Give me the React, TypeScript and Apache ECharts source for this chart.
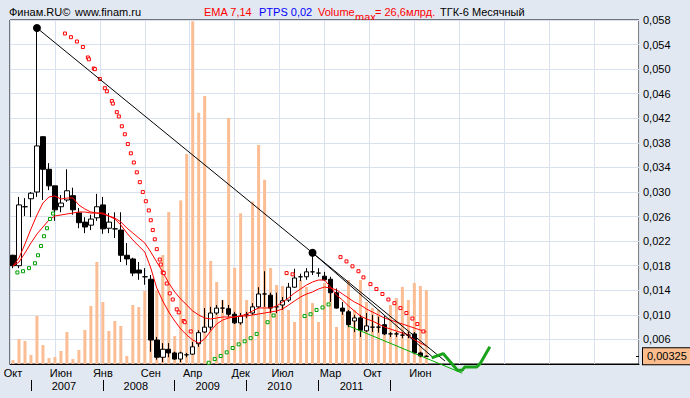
import React, { useEffect, useRef } from 'react';
import * as echarts from 'echarts';

const FONT = '"Liberation Sans", Arial, sans-serif';

const monthNames = ['Янв', 'Фев', 'Мар', 'Апр', 'Май', 'Июн', 'Июл', 'Авг', 'Сен', 'Окт', 'Ноя', 'Дек'];
const categories: string[] = [];
for (let k = 0; k < 105; k++) {
  const m = (9 + k) % 12;
  const y = 2006 + Math.floor((9 + k) / 12);
  categories.push(monthNames[m] + ' ' + y);
}
const monthLabelIdx = [0, 8, 15, 23, 30, 38, 45, 53, 60, 68];
const yearTickPos = [3, 15, 27, 39, 51, 63];
const yearLabelPos = [8.5, 20.5, 32.5, 44.5, 56.5];
const yearLabels = ['2007', '2008', '2009', '2010', '2011'];

const candleOpen = [0.0197, 0.018, 0.0276, 0.0289, 0.03, 0.039, 0.0337, 0.031, 0.0276, 0.0287, 0.0294, 0.0266, 0.0251, 0.0246, 0.0258, 0.0279, 0.0241, 0.024, 0.0238, 0.0197, 0.0191, 0.0173, 0.0162, 0.0158, 0.0059, 0.0031, 0.0044, 0.0038, 0.0028, 0.0035, 0.0036, 0.0053, 0.0072, 0.008, 0.0103, 0.0111, 0.011, 0.0101, 0.0087, 0.01, 0.0103, 0.0113, 0.0134, 0.0132, 0.0113, 0.0116, 0.0124, 0.0145, 0.0162, 0.0162, 0.017, 0.0168, 0.0163, 0.0158, 0.0136, 0.0111, 0.0105, 0.009, 0.0095, 0.0074, 0.008, 0.008, 0.0084, 0.0069, 0.0069, 0.0067, 0.0067, 0.0069, 0.0038, 0.00325];
const candleClose = [0.018, 0.0279, 0.0276, 0.0298, 0.0375, 0.0337, 0.031, 0.0271, 0.0282, 0.0302, 0.0271, 0.025, 0.0243, 0.0256, 0.0276, 0.024, 0.0251, 0.024, 0.0197, 0.0191, 0.0168, 0.0168, 0.0162, 0.0059, 0.0031, 0.0044, 0.0038, 0.0028, 0.0038, 0.0035, 0.0048, 0.0071, 0.008, 0.0103, 0.0111, 0.0111, 0.0101, 0.0087, 0.0098, 0.01, 0.0113, 0.0134, 0.0134, 0.0111, 0.0113, 0.0123, 0.0145, 0.016, 0.0162, 0.017, 0.017, 0.0168, 0.0157, 0.0136, 0.0111, 0.0106, 0.0084, 0.0095, 0.0075, 0.0082, 0.008, 0.008, 0.0069, 0.0069, 0.0069, 0.0067, 0.0067, 0.0038, 0.0033, 0.00325];
const candleLow = [0.0176, 0.0176, 0.0261, 0.0259, 0.0292, 0.0287, 0.0303, 0.0253, 0.0267, 0.0284, 0.0263, 0.0241, 0.0233, 0.0238, 0.0253, 0.0232, 0.0233, 0.0225, 0.0186, 0.0181, 0.0163, 0.0157, 0.0149, 0.004, 0.0027, 0.0023, 0.0031, 0.0027, 0.0023, 0.0031, 0.0035, 0.0048, 0.0071, 0.0075, 0.01, 0.0103, 0.0097, 0.0085, 0.0084, 0.0095, 0.01, 0.0111, 0.0113, 0.0103, 0.0103, 0.0108, 0.0121, 0.0144, 0.0155, 0.0157, 0.0165, 0.0162, 0.0155, 0.0121, 0.011, 0.01, 0.008, 0.0072, 0.0064, 0.0072, 0.0072, 0.0071, 0.0067, 0.0064, 0.0064, 0.0062, 0.0062, 0.0036, 0.0031, 0.0032];
const candleHigh = [0.0198, 0.0292, 0.029, 0.03, 0.0567, 0.0391, 0.0347, 0.031, 0.0295, 0.0337, 0.0307, 0.0274, 0.0259, 0.0263, 0.0297, 0.0292, 0.0266, 0.0267, 0.0267, 0.0217, 0.0193, 0.0186, 0.0176, 0.0165, 0.0064, 0.0054, 0.0054, 0.004, 0.004, 0.0038, 0.0056, 0.0075, 0.0111, 0.0113, 0.0116, 0.0124, 0.0116, 0.0105, 0.0103, 0.0105, 0.0119, 0.0145, 0.0171, 0.0136, 0.0136, 0.0129, 0.0152, 0.0175, 0.0167, 0.0176, 0.0201, 0.0176, 0.017, 0.0162, 0.0143, 0.0121, 0.0108, 0.01, 0.01, 0.0103, 0.01, 0.0097, 0.0098, 0.0072, 0.0072, 0.0072, 0.0072, 0.0072, 0.004, 0.0034];

// volume, bn
const volume = [0.3, 1.94, 1.79, 0.7, 3.73, 1.47, 0.47, 0.54, 1.01, 2.48, 0.39, 1.09, 2.64, 4.5, 7.92, 4.81, 2.56, 3.34, 2.95, 0.62, 4.58, 4.42, 5.67, 4.97, 5.74, 8.46, 11.8, 2.17, 12.7, 16.3, 26.6, 19.5, 20.8, 8.0, 6.36, 4.97, 19.1, 7.45, 11.7, 4.97, 12.6, 17.0, 14.3, 7.45, 6.13, 6.05, 4.19, 3.26, 6.52, 5.98, 4.73, 3.26, 6.29, 5.51, 2.87, 4.04, 6.52, 4.19, 6.52, 4.81, 4.35, 4.19, 3.03, 4.58, 5.12, 5.98, 4.97, 6.29, 6.05, 5.74];

const emaFast = [0.01795, 0.01926, 0.02153, 0.02398, 0.02626, 0.02821, 0.02919, 0.02935, 0.02886, 0.02902, 0.02902, 0.02788, 0.02723, 0.02674, 0.02658, 0.02642, 0.02609, 0.0256, 0.02463, 0.02333, 0.02219, 0.02121, 0.02023, 0.01763, 0.01437, 0.01226, 0.01047, 0.009, 0.0077, 0.00672, 0.00591, 0.00542, 0.00607, 0.00737, 0.00851, 0.00916, 0.00949, 0.00965, 0.00981, 0.01014, 0.01063, 0.01112, 0.01112, 0.01112, 0.01144, 0.01209, 0.01274, 0.01356, 0.01421, 0.01486, 0.01535, 0.01567, 0.01567, 0.01453, 0.01323, 0.01242, 0.01144, 0.01063, 0.00981, 0.00933, 0.009, 0.00851, 0.00802, 0.0077, 0.00737, 0.00705, 0.00672, 0.00591, 0.00542, 0.00493];
const emaSlow = [0.01795, 0.0186, 0.02007, 0.0217, 0.02316, 0.0243, 0.02544, 0.02609, 0.02626, 0.02642, 0.02658, 0.02674, 0.02674, 0.02658, 0.02658, 0.02658, 0.02609, 0.02577, 0.02512, 0.02414, 0.02333, 0.02251, 0.0217, 0.02023, 0.0186, 0.01698, 0.01519, 0.01372, 0.01258, 0.0116, 0.01063, 0.00998, 0.00949, 0.00933, 0.00949, 0.00965, 0.00965, 0.00965, 0.00981, 0.00981, 0.00998, 0.01014, 0.0103, 0.01047, 0.01063, 0.01095, 0.0116, 0.01226, 0.01291, 0.0134, 0.01372, 0.01421, 0.01453, 0.01437, 0.01405, 0.0134, 0.01274, 0.01209, 0.0116, 0.01095, 0.01047, 0.00998, 0.00949, 0.00916, 0.00884, 0.00851, 0.00819, 0.00786, 0.00753, 0.00721];

// Parabolic SAR points: [month index, value]
const sarDown = [[8.67, 0.0558], [9.67, 0.0552], [10.67, 0.0545], [11.67, 0.0536], [12.5, 0.0519], [12.67, 0.0516], [13.5, 0.0501], [13.67, 0.05], [14.5, 0.0484], [15.33, 0.0469], [15.67, 0.0464], [16.5, 0.0448], [16.67, 0.0444], [17.33, 0.043], [17.67, 0.0423], [18.17, 0.0407], [18.67, 0.0394], [19.17, 0.0378], [19.67, 0.0363], [20.17, 0.0348], [20.67, 0.0332], [21.17, 0.0316], [21.67, 0.03], [22.17, 0.0285], [22.67, 0.027], [23, 0.0254], [23.33, 0.0238], [23.67, 0.0223], [24, 0.0207], [24.5, 0.019], [24.67, 0.0182], [25, 0.0169], [25.17, 0.0168], [25.67, 0.0151], [26.17, 0.0135], [26.67, 0.0125], [27.33, 0.0109], [27.67, 0.0104], [28.5, 0.009], [28.67, 0.0088], [29.67, 0.0073], [45.67, 0.0168], [46.67, 0.0166], [54.67, 0.0194], [55.67, 0.0187], [56.67, 0.0179], [57.67, 0.0171], [58.5, 0.0161], [59.67, 0.015], [60.67, 0.0142], [61.67, 0.0134], [62.67, 0.0125], [63.67, 0.0119], [64.67, 0.0111], [65.67, 0.0103], [66.67, 0.0094], [67.5, 0.0085], [68.5, 0.0073]];
const sarUp = [[0.73, 0.0169], [1.67, 0.0171], [2.67, 0.0176], [3.67, 0.0184], [4.17, 0.0197], [4.67, 0.0212], [5.17, 0.0228], [5.67, 0.0241], [6.17, 0.0256], [6.67, 0.0265], [32.67, 0.0022], [33.67, 0.0028], [34.67, 0.0033], [35.67, 0.0039], [36.67, 0.0046], [37.67, 0.0052], [38.67, 0.0057], [39.67, 0.0062], [40.67, 0.0069], [42.5, 0.0088], [43.5, 0.0099], [48.67, 0.0098], [49.67, 0.0101], [50.67, 0.0108], [51.67, 0.0112], [52.67, 0.0117]];

const trendMain = [[4, 0.0567], [50, 0.0201], [72.1, 0.0025]];
const trendSecond = [[50, 0.0201], [70.2, 0.003]];
const supportLine = [[56, 0.0082], [75, 0.0005]];
const forecast = [[69.9, 0.003], [71.8, 0.0037], [74.2, 0.001], [75, 0.001], [75.4, 0.0015], [77.4, 0.0015], [78, 0.0021], [79.6, 0.0048]];
const lastPrice = 0.00325;
const lastPriceLabel = '0,00325';

export default function App() {
  const ref = useRef<HTMLDivElement>(null);
  useEffect(() => {
    if (!ref.current) return;
    const chart = echarts.init(ref.current, undefined, { renderer: 'svg' });
    const candles = candleOpen.map((o, i) => [o, candleClose[i], candleLow[i], candleHigh[i]]);
    const txt = (x: number, y: number, text: string, fill: string) => ({
      type: 'text', x, y, silent: true,
      style: { text, fill, font: '11px ' + FONT, verticalAlign: 'middle', align: 'left' },
    });
    // the bottom tick label (0,002) lies under the last-price box
    const fmt = (v: number) => (v < 0.0025 ? '' : v.toFixed(3).replace('.', ','));
    chart.setOption({
      animation: false,
      backgroundColor: '#e2e8f2',
      textStyle: { fontFamily: FONT },
      grid: {
        left: 10, top: 20, width: 629, height: 344, show: true, outerBoundsMode: 'none', containLabel: false,
        backgroundColor: '#ffffff', borderColor: '#000', borderWidth: 1,
      },
      xAxis: [
        {
          type: 'category', data: categories, boundaryGap: true, gridIndex: 0, position: 'bottom',
          axisLine: { show: true, lineStyle: { color: '#000', width: 1 } },
          axisTick: { show: false },
          splitLine: { show: false },
          axisLabel: {
            interval: (index: number) => monthLabelIdx.includes(index),
            formatter: (v: string) => v.split(' ')[0],
            color: '#000', fontSize: 11, fontFamily: FONT, margin: 3,
          },
        },
        {
          type: 'value', min: -0.5, max: 104.5, position: 'bottom', offset: 16, gridIndex: 0,
          axisLine: { show: false },
          splitLine: { show: false },
          axisTick: { show: true, customValues: yearTickPos, length: 11, lineStyle: { color: '#000', width: 1 } },
          axisLabel: {
            show: true, customValues: yearLabelPos,
            formatter: (v: number) => yearLabels[yearLabelPos.indexOf(v)] || '',
            color: '#000', fontSize: 11, fontFamily: FONT, margin: 0,
          },
        },
        {
          type: 'value', min: 0, max: 14, interval: 1, position: 'top', gridIndex: 0,
          axisLine: { show: false }, axisTick: { show: false }, axisLabel: { show: false },
          splitLine: { show: true, lineStyle: { color: '#d9e1ee', width: 1 } },
        },
      ],
      yAxis: [
        {
          type: 'value', position: 'right', min: 0.002, max: 0.058, interval: 0.004,
          axisLine: { show: false }, axisTick: { show: false },
          splitLine: { show: true, lineStyle: { color: '#d9e1ee', width: 1 } },
          axisLabel: { color: '#000', fontSize: 11, fontFamily: FONT, margin: 4, formatter: fmt },
        },
        { type: 'value', position: 'left', min: 0, max: 26.7, show: false },
        {
          type: 'value', position: 'right', min: 0.002, max: 0.058,
          axisLine: { show: false }, splitLine: { show: false },
          axisTick: { show: true, customValues: [lastPrice], inside: true, length: 3, lineStyle: { color: '#000' } },
          axisLabel: {
            show: true, customValues: [lastPrice], formatter: () => lastPriceLabel, margin: 4,
            color: '#000', fontSize: 11, fontFamily: FONT,
            backgroundColor: '#fbbd8d', borderColor: '#000', borderWidth: 1, padding: [3, 6, 2, 4],
          },
        },
      ],
      graphic: [
        txt(9, 12, 'Финам.RU©', '#000'),
        txt(75, 12, 'www.finam.ru', '#000'),
        txt(204, 12, 'EMA 7,14', '#ff0000'),
        txt(259, 12, 'PTPS 0,02', '#0000ff'),
        txt(318, 12, 'Volume', '#ff0000'),
        txt(355, 17, 'max', '#ff0000'),
        txt(375, 12, '= 26,6млрд.', '#ff0000'),
        txt(440, 12, 'ТГК-6 Месячный', '#000'),
      ],
      series: [
        {
          name: 'Volume', type: 'bar', xAxisIndex: 0, yAxisIndex: 1, data: volume,
          barWidth: 3, itemStyle: { color: '#fabd94' }, z: 1, silent: true,
        },
        {
          name: 'Price', type: 'candlestick', xAxisIndex: 0, yAxisIndex: 0, data: candles, barWidth: 5, z: 3,
          itemStyle: { color: '#ffffff', color0: '#000000', borderColor: '#000', borderColor0: '#000', borderColorDoji: '#000', borderWidth: 1 },
        },
        {
          name: 'EMA7', type: 'line', xAxisIndex: 0, yAxisIndex: 0, data: emaFast, showSymbol: false, z: 4,
          lineStyle: { color: '#ff0000', width: 1 },
        },
        {
          name: 'EMA14', type: 'line', xAxisIndex: 0, yAxisIndex: 0, data: emaSlow, showSymbol: false, z: 4,
          lineStyle: { color: '#ff0000', width: 1 },
        },
        {
          name: 'SAR down', type: 'scatter', xAxisIndex: 1, yAxisIndex: 0, data: sarDown, symbol: 'rect', symbolSize: 3, z: 5,
          itemStyle: { color: '#ffffff', borderColor: '#ff0000', borderWidth: 1, opacity: 1 },
        },
        {
          name: 'SAR up', type: 'scatter', xAxisIndex: 1, yAxisIndex: 0, data: sarUp, symbol: 'rect', symbolSize: 3, z: 5,
          itemStyle: { color: '#ffffff', borderColor: '#00a000', borderWidth: 1, opacity: 1 },
        },
        {
          name: 'Trend', type: 'line', xAxisIndex: 1, yAxisIndex: 0, z: 6,
          data: trendMain.map((p, i) => ({ value: p, symbol: i < 2 ? 'circle' : 'none', symbolSize: 8 })),
          showSymbol: true, itemStyle: { color: '#000' }, lineStyle: { color: '#000', width: 1 },
        },
        {
          name: 'Trend2', type: 'line', xAxisIndex: 1, yAxisIndex: 0, z: 6, data: trendSecond, showSymbol: false,
          lineStyle: { color: '#000', width: 1 },
        },
        {
          name: 'Support', type: 'line', xAxisIndex: 1, yAxisIndex: 0, z: 6, data: supportLine, showSymbol: false, clip: false,
          lineStyle: { color: '#00b000', width: 1 },
        },
        {
          name: 'Forecast', type: 'line', xAxisIndex: 1, yAxisIndex: 0, z: 7, data: forecast, showSymbol: false, clip: false,
          lineStyle: { color: '#1aa31a', width: 3 },
        },
      ],
    });
    return () => chart.dispose();
  }, []);
  return <div ref={ref} style={{ position: 'absolute', left: 0, top: 0, width: 690, height: 398 }} />;
}
